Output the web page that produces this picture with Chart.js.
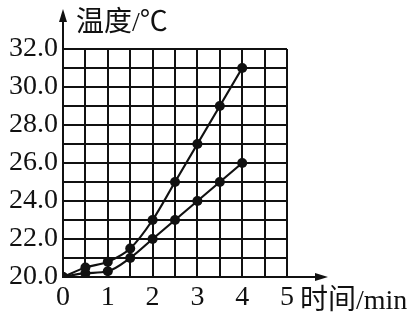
<!DOCTYPE html>
<html>
<head>
<meta charset="utf-8">
<script src="https://cdn.jsdelivr.net/npm/chart.js@4"></script>
<style>
  html, body { margin: 0; padding: 0; background: #fff; }
  #wrap { width: 411px; height: 315px; }
</style>
</head>
<body>
<div id="wrap"><canvas id="c"></canvas></div>
<script>
// tempo (min) e temperaturas das duas curvas
const times = [0, 0.5, 1, 1.5, 2, 2.5, 3, 3.5, 4];
const upperTemps = [20.0, 20.5, 20.8, 21.5, 23.0, 25.0, 27.0, 29.0, 31.0];
const lowerTemps = [20.0, 20.2, 20.3, 21.0, 22.0, 23.0, 24.0, 25.0, 26.0];
const yLabelValues = [20, 22, 24, 26, 28, 30, 32];
const xLabelValues = [0, 1, 2, 3, 4, 5];

const INK = "#111";
const SERIF = "'Liberation Serif', 'Noto Sans CJK SC', serif";

const toPoints = (ys) => times.map((t, i) => ({ x: t, y: ys[i] }));

// setas dos eixos + títulos
const axisDecor = {
  id: "axisDecor",
  afterDraw(chart) {
    const { ctx, chartArea: a } = chart;
    ctx.save();
    ctx.strokeStyle = INK;
    ctx.fillStyle = INK;
    ctx.lineWidth = 2;
    // eixo y até a seta
    ctx.beginPath();
    ctx.moveTo(a.left, a.bottom);
    ctx.lineTo(a.left, 18);
    ctx.stroke();
    ctx.beginPath();
    ctx.moveTo(a.left, 9);
    ctx.lineTo(a.left - 4, 22);
    ctx.lineTo(a.left + 4, 22);
    ctx.closePath();
    ctx.fill();
    // eixo x até a seta
    ctx.beginPath();
    ctx.moveTo(a.left, a.bottom);
    ctx.lineTo(318, a.bottom);
    ctx.stroke();
    ctx.beginPath();
    ctx.moveTo(328, a.bottom);
    ctx.lineTo(315, a.bottom - 4);
    ctx.lineTo(315, a.bottom + 4);
    ctx.closePath();
    ctx.fill();

    ctx.font = "28px " + SERIF;
    ctx.textBaseline = "alphabetic";
    ctx.textAlign = "left";
    ctx.fillText("温度/℃", 76, 31);
    ctx.font = "28px " + SERIF;
    ctx.fillText("时间/min", 300, 309);
    ctx.restore();
  },
};

new Chart(document.getElementById("c"), {
  type: "line",
  data: {
    datasets: [
      { data: toPoints(upperTemps) },
      { data: toPoints(lowerTemps) },
    ],
  },
  plugins: [axisDecor],
  options: {
    responsive: true,
    maintainAspectRatio: false,
    animation: false,
    layout: { padding: { top: 49, right: 124, bottom: 0, left: 0 } },
    elements: {
      line: { borderColor: INK, borderWidth: 2.2, cubicInterpolationMode: "monotone", fill: false },
      point: { radius: 5, backgroundColor: INK, borderColor: INK, borderWidth: 0 },
    },
    plugins: { legend: { display: false }, tooltip: { enabled: false } },
    scales: {
      x: {
        type: "linear",
        min: 0,
        max: 5,
        afterFit: (s) => { s.height = 38; },
        afterBuildTicks: (s) => { s.ticks = times.concat([4.5, 5]).map((v) => ({ value: v })); },
        grid: { color: INK, lineWidth: 2, drawTicks: false },
        border: { color: INK, width: 2 },
        ticks: {
          color: INK,
          padding: 4,
          autoSkip: false,
          maxRotation: 0,
          font: { family: SERIF, size: 28 },
          callback: (v) => (xLabelValues.includes(v) ? String(v) : ""),
        },
      },
      y: {
        min: 20,
        max: 32,
        afterFit: (s) => { s.width = 63; },
        grid: { color: INK, lineWidth: 2, drawTicks: false },
        border: { color: INK, width: 2 },
        ticks: {
          color: INK,
          stepSize: 1,
          padding: 5,
          autoSkip: false,
          font: { family: SERIF, size: 28 },
          callback: (v) => (yLabelValues.includes(v) ? v.toFixed(1) : ""),
        },
      },
    },
  },
});
</script>
</body>
</html>
